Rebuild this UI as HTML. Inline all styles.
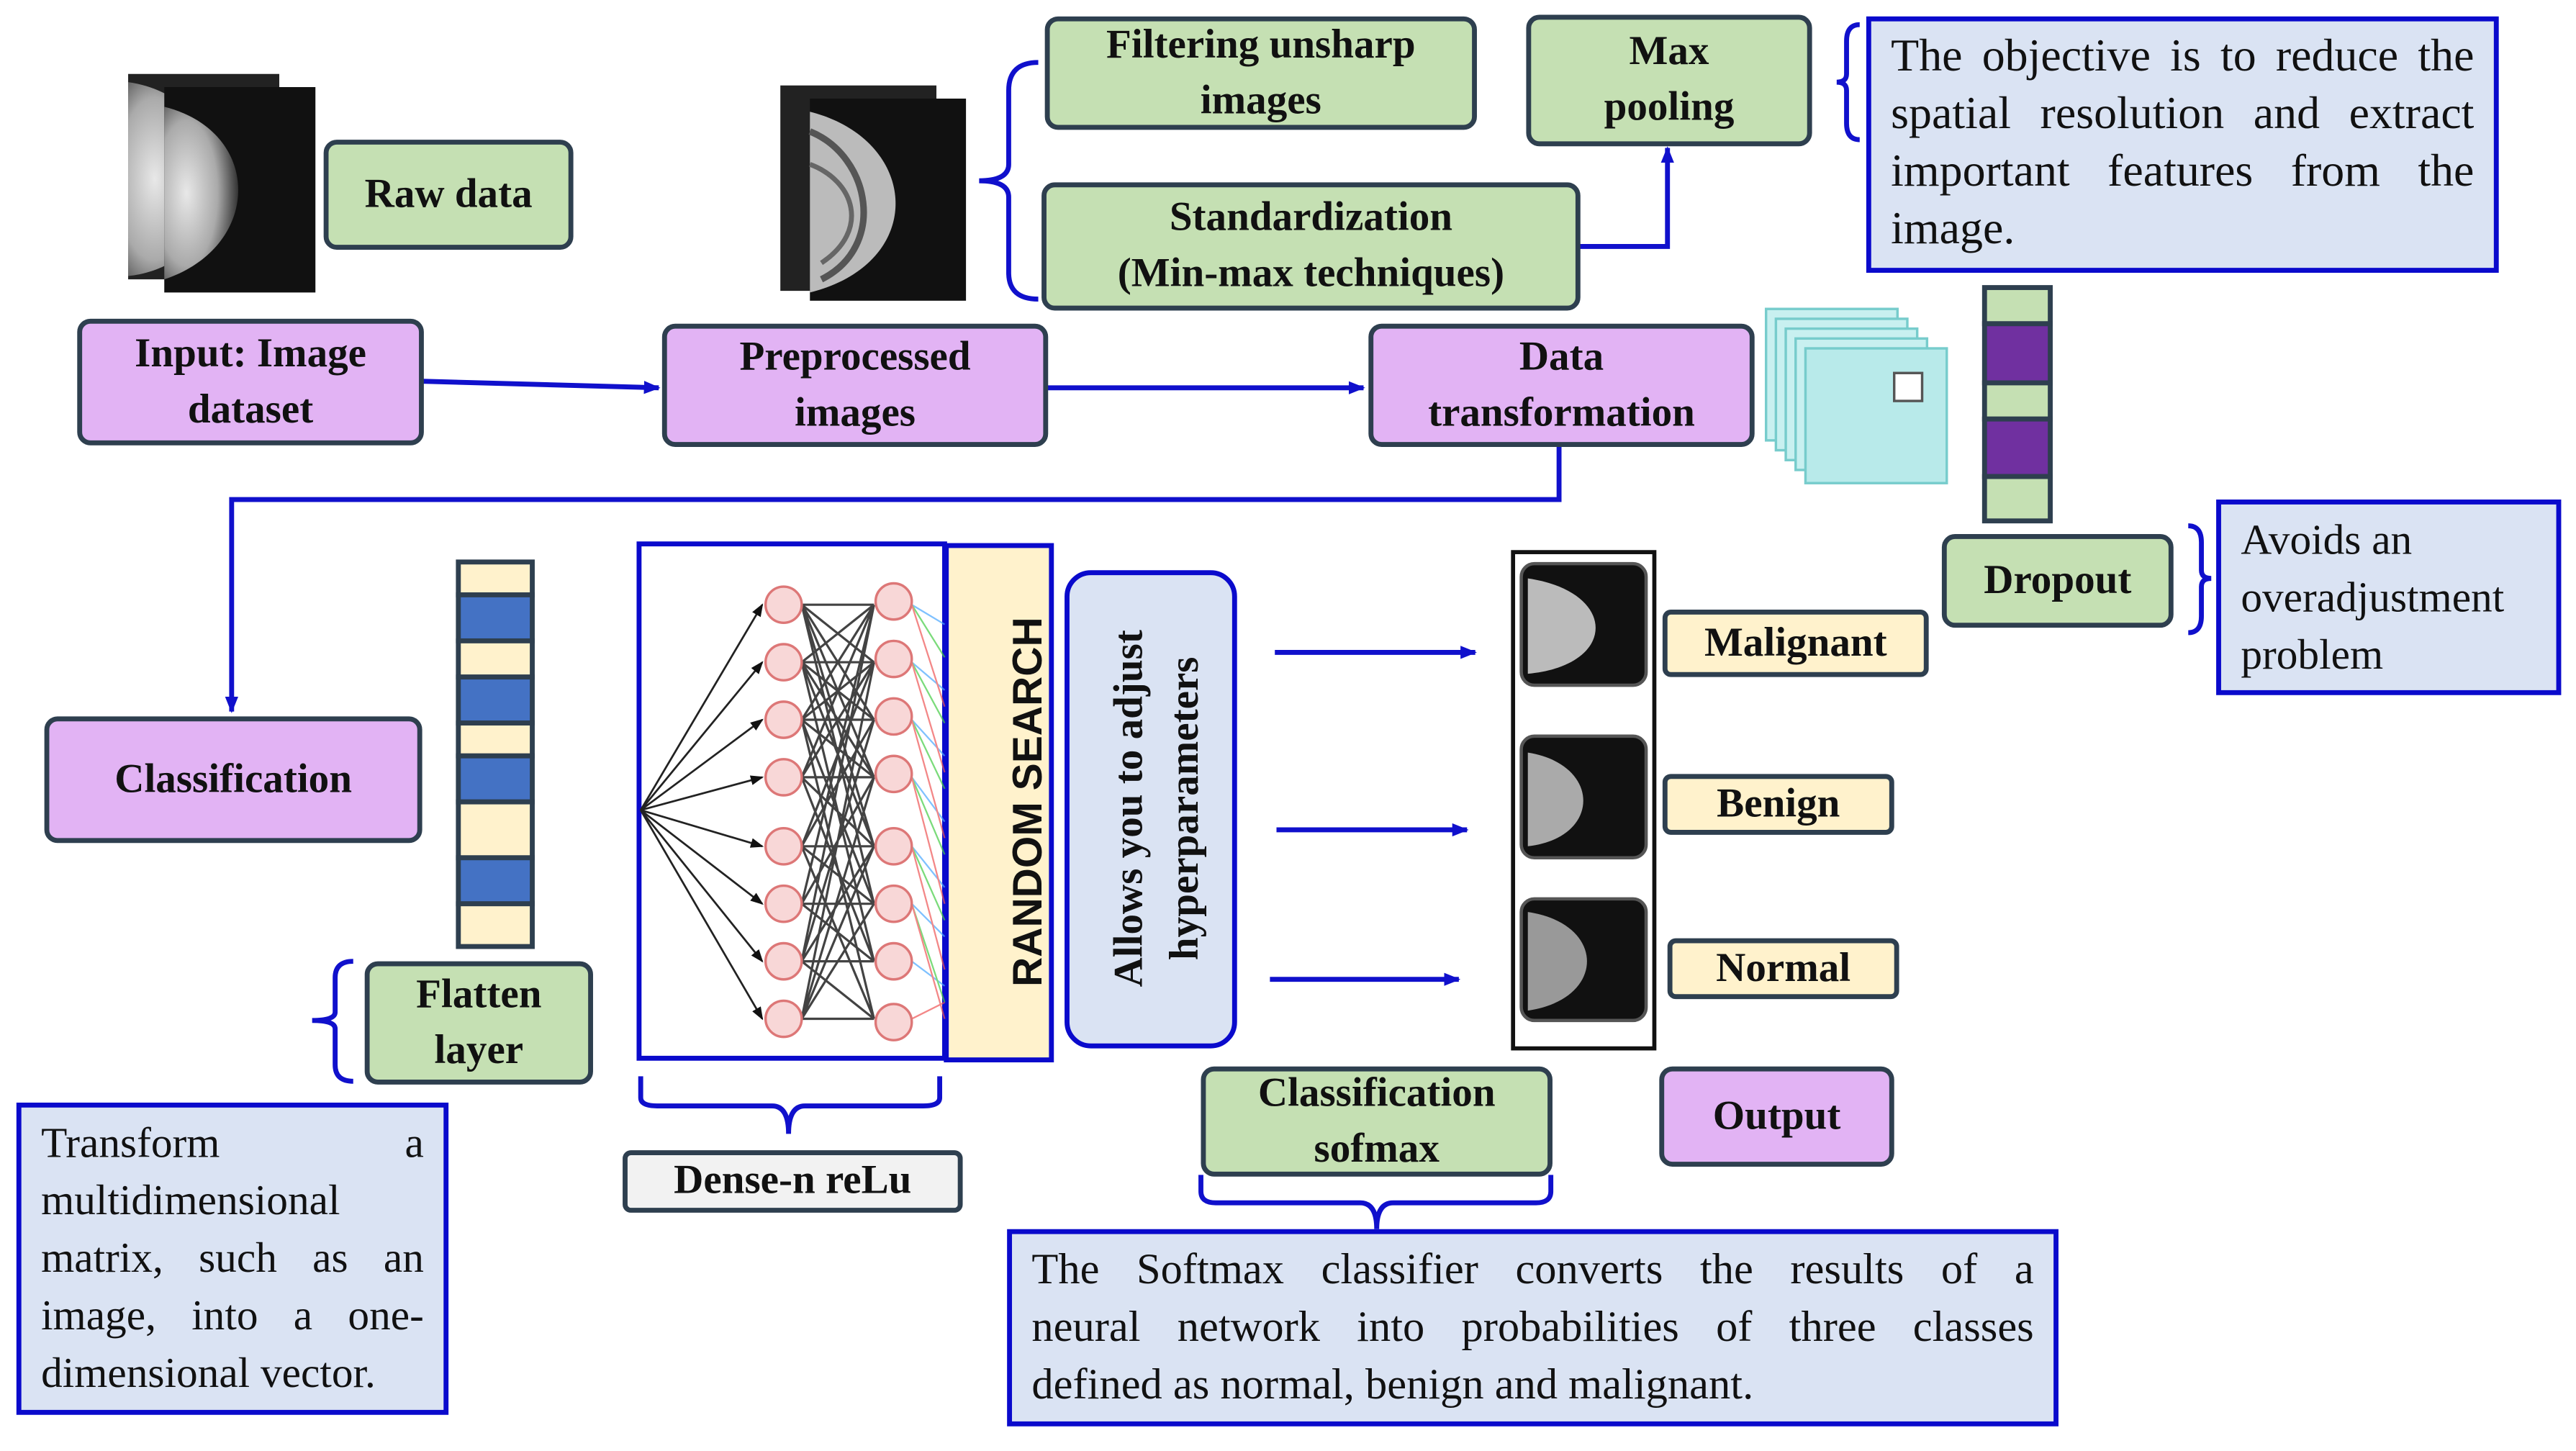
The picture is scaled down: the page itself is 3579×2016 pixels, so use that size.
<!DOCTYPE html>
<html><head><meta charset="utf-8"><style>
html,body{margin:0;padding:0;background:#fff;width:3579px;height:2016px;overflow:hidden}
#c{position:absolute;left:0;top:0;width:1568px;height:883px;transform:scale(2.2825,2.2831);transform-origin:0 0;font-family:"Liberation Serif",serif}
.b{position:absolute;box-sizing:border-box;display:flex;align-items:center;justify-content:center;text-align:center;font-weight:bold;font-size:25px;line-height:34px;color:#111}
.g{background:#c5e0b3;border:3px solid #2e3f4f;border-radius:8px}
.p{background:#e2b3f4;border:3px solid #2e3f4f;border-radius:8px}
.y{background:#fff2cc;border:3px solid #2e3f4f;border-radius:5px}
.t{position:absolute;box-sizing:border-box;background:#dae3f3;border:3px solid #0a0acc;font-size:26px;line-height:35px;color:#111;text-align:justify;text-align-last:left;padding:6px 12px}
.j{text-align:justify;text-align-last:justify;white-space:nowrap}
svg{position:absolute;left:0;top:0}
</style></head><body><div id="c">
<svg width="1568" height="883" viewBox="0 0 1568 883">
<defs><marker id="a" markerWidth="10" markerHeight="10" refX="9" refY="5" orient="auto" markerUnits="userSpaceOnUse"><path d="M0,1 L10,5 L0,9z" fill="#1010cc"/></marker>
<marker id="k" markerWidth="8" markerHeight="8" refX="7" refY="4" orient="auto" markerUnits="userSpaceOnUse"><path d="M0,1 L8,4 L0,7z" fill="#111"/></marker>
<radialGradient id="m" cx="0.3" cy="0.5" r="0.7"><stop offset="0" stop-color="#e8e8e8"/><stop offset="0.6" stop-color="#aaa"/><stop offset="1" stop-color="#333"/></radialGradient></defs>
<rect x="78" y="45" width="92" height="125" fill="#222"/>
<path d="M78,50 C150,60 150,160 78,168 Z" fill="url(#m)"/>
<rect x="100" y="53" width="92" height="125" fill="#111"/>
<path d="M100,65 C160,80 160,150 100,170 Z" fill="url(#m)"/>
<rect x="475" y="52" width="95" height="125" fill="#222"/>
<rect x="493" y="60" width="95" height="123" fill="#111"/>
<path d="M493,68 C560,85 565,160 493,178 Z" fill="#bbb"/>
<path d="M493,80 C530,95 540,150 500,170" stroke="#555" stroke-width="4" fill="none"/>
<path d="M493,100 C520,110 530,140 500,160" stroke="#666" stroke-width="3" fill="none"/>
<g stroke="#1010cc" stroke-width="3" fill="none">
<line x1="257" y1="232" x2="401" y2="236" marker-end="url(#a)"/>
<line x1="637" y1="236" x2="830" y2="236" marker-end="url(#a)"/>
<polyline points="961,150 1015,150 1015,90" marker-end="url(#a)"/>
<polyline points="949,271 949,304 141,304 141,433" marker-end="url(#a)"/>
<line x1="776" y1="397" x2="898" y2="397" marker-end="url(#a)"/>
<line x1="777" y1="505" x2="893" y2="505" marker-end="url(#a)"/>
<line x1="773" y1="596" x2="888" y2="596" marker-end="url(#a)"/>
<path d="M632,38 Q614,38 614,55 L614,100 Q614,110 596,110 Q614,110 614,120 L614,166 Q614,182 632,182"/>
<path d="M1132,15 Q1124,15 1124,25 L1124,45 Q1124,50 1118,50 Q1124,50 1124,55 L1124,75 Q1124,85 1132,85"/>
<path d="M1332,320 Q1340,320 1340,330 L1340,347 Q1340,352 1346,352 Q1340,352 1340,357 L1340,375 Q1340,385 1332,385"/>
<path d="M215,585 Q204,585 204,595 L204,616 Q204,621 190,621 Q204,621 204,626 L204,648 Q204,658 215,658"/>
<path d="M390,655 L390,668 Q390,673 400,673 L470,673 Q480,673 480,690 Q480,673 490,673 L562,673 Q572,673 572,668 L572,655"/>
<path d="M731,715 L731,725 Q731,732 740,732 L828,732 Q838,732 838,748 Q838,732 848,732 L935,732 Q944,732 944,725 L944,715"/>
</g>
<g stroke="#7cc" stroke-width="1.5" fill="#c8f0f0">
<rect x="1075" y="188" width="80" height="80"/><rect x="1081" y="194" width="80" height="80"/><rect x="1087" y="200" width="80" height="80"/><rect x="1093" y="206" width="80" height="80"/><rect x="1099" y="212" width="86" height="82" fill="#b8eaea"/>
</g>
<rect x="1153" y="227" width="17" height="17" fill="#fff" stroke="#555" stroke-width="1.5"/>
<g stroke="#2e3f4f" stroke-width="3">
<rect x="1208" y="175" width="40" height="22" fill="#c5e0b3"/>
<rect x="1208" y="197" width="40" height="36" fill="#7030a0"/>
<rect x="1208" y="233" width="40" height="22" fill="#c5e0b3"/>
<rect x="1208" y="255" width="40" height="35" fill="#7030a0"/>
<rect x="1208" y="290" width="40" height="27" fill="#c5e0b3"/>
</g>
<g stroke="#2e3f4f" stroke-width="3">
<rect x="279" y="342" width="45" height="20" fill="#fff2cc"/>
<rect x="279" y="362" width="45" height="28" fill="#4472c4"/>
<rect x="279" y="390" width="45" height="22" fill="#fff2cc"/>
<rect x="279" y="412" width="45" height="28" fill="#4472c4"/>
<rect x="279" y="440" width="45" height="20" fill="#fff2cc"/>
<rect x="279" y="460" width="45" height="28" fill="#4472c4"/>
<rect x="279" y="488" width="45" height="34" fill="#fff2cc"/>
<rect x="279" y="522" width="45" height="28" fill="#4472c4"/>
<rect x="279" y="550" width="45" height="26" fill="#fff2cc"/>
</g>
<rect x="389" y="331" width="186" height="313" fill="#fff" stroke="#0a0acc" stroke-width="3"/>
<rect x="576" y="332" width="64" height="313" fill="#fff2cc" stroke="#0a0acc" stroke-width="3"/>
<g stroke="#222" stroke-width="1.2" fill="none">
<line x1="390" y1="493" x2="464" y2="368" marker-end="url(#k)"/>
<line x1="390" y1="493" x2="464" y2="403" marker-end="url(#k)"/>
<line x1="390" y1="493" x2="464" y2="438" marker-end="url(#k)"/>
<line x1="390" y1="493" x2="464" y2="473" marker-end="url(#k)"/>
<line x1="390" y1="493" x2="464" y2="515" marker-end="url(#k)"/>
<line x1="390" y1="493" x2="464" y2="550" marker-end="url(#k)"/>
<line x1="390" y1="493" x2="464" y2="585" marker-end="url(#k)"/>
<line x1="390" y1="493" x2="464" y2="620" marker-end="url(#k)"/>
<g opacity="0.85" stroke-width="1.4">
<path d="M488,368L532,368M488,368L532,403M488,368L532,438M488,368L532,473M488,368L532,515M488,368L532,550M488,403L532,368M488,403L532,403M488,403L532,438M488,403L532,473M488,403L532,515M488,403L532,585M488,438L532,368M488,438L532,403M488,438L532,438M488,438L532,473M488,438L532,550M488,438L532,620M488,473L532,368M488,473L532,403M488,473L532,473M488,473L532,515M488,473L532,585M488,515L532,403M488,515L532,438M488,515L532,515M488,515L532,550M488,515L532,620M488,550L532,368M488,550L532,473M488,550L532,550M488,550L532,585M488,585L532,438M488,585L532,515M488,585L532,585M488,585L532,620M488,620L532,403M488,620L532,473M488,620L532,550M488,620L532,620M488,585L532,368M488,620L532,515"/>
</g>
</g>
<g stroke-width="1" opacity="0.7">
<path d="M555,368L575,380M555,403L575,420M555,438L575,460M555,473L575,500M555,515L575,540M555,550L575,570M555,585L575,600" stroke="#4aa8ff"/>
<path d="M555,368L575,400M555,403L575,440M555,438L575,480M555,473L575,520M555,515L575,560M555,550L575,610" stroke="#4c4"/>
<path d="M555,368L575,430M555,403L575,470M555,438L575,510M555,473L575,550M555,515L575,590M555,550L575,620M555,620L575,610" stroke="#e55"/>
</g>
<g fill="#f8d7d7" stroke="#d77" stroke-width="1.5">
<circle cx="477" cy="368" r="11"/><circle cx="477" cy="403" r="11"/><circle cx="477" cy="438" r="11"/><circle cx="477" cy="473" r="11"/><circle cx="477" cy="515" r="11"/><circle cx="477" cy="550" r="11"/><circle cx="477" cy="585" r="11"/><circle cx="477" cy="620" r="11"/>
<circle cx="544" cy="366" r="11"/><circle cx="544" cy="401" r="11"/><circle cx="544" cy="436" r="11"/><circle cx="544" cy="471" r="11"/><circle cx="544" cy="515" r="11"/><circle cx="544" cy="550" r="11"/><circle cx="544" cy="585" r="11"/><circle cx="544" cy="622" r="11"/>
</g>
<text transform="translate(634,488) rotate(-90)" text-anchor="middle" font-family="Liberation Sans,sans-serif" font-weight="bold" font-size="25" fill="#111">RANDOM SEARCH</text>
<rect x="921" y="336" width="86" height="302" fill="#fff" stroke="#111" stroke-width="2.5"/>
<g stroke="#555" stroke-width="2">
<rect x="926" y="343" width="76" height="74" rx="8" fill="#111"/>
<rect x="926" y="448" width="76" height="74" rx="8" fill="#111"/>
<rect x="926" y="547" width="76" height="74" rx="8" fill="#111"/>
</g>
<path d="M930,352 C985,360 985,405 930,410Z" fill="#bbb"/>
<path d="M930,458 C975,465 975,510 930,515Z" fill="#aaa"/>
<path d="M930,555 C978,562 978,608 930,615Z" fill="#999"/>
<text transform="translate(695,492) rotate(-90)" text-anchor="middle" font-family="Liberation Serif,serif" font-weight="bold" font-size="25" fill="#111"><tspan x="0" y="0">Allows you to adjust</tspan><tspan x="0" y="34">hyperparameters</tspan></text>
</svg>
<div class="b g" style="left:197px;top:85px;width:152px;height:67px">Raw data</div>
<div class="b p" style="left:47px;top:194px;width:211px;height:77px">Input: Image<br>dataset</div>
<div class="b p" style="left:403px;top:197px;width:235px;height:75px">Preprocessed<br>images</div>
<div class="b g" style="left:636px;top:10px;width:263px;height:69px">Filtering unsharp<br>images</div>
<div class="b g" style="left:634px;top:111px;width:328px;height:78px">Standardization<br>(Min-max techniques)</div>
<div class="b g" style="left:929px;top:9px;width:174px;height:80px">Max<br>pooling</div>
<div class="t" style="left:1136px;top:10px;width:385px;height:156px;padding-top:4px;font-size:28px">The objective is to reduce the spatial resolution and extract important features from the image.</div>
<div class="b p" style="left:833px;top:197px;width:235px;height:75px">Data<br>transformation</div>
<div class="b g" style="left:1182px;top:325px;width:141px;height:57px">Dropout</div>
<div class="t" style="left:1349px;top:304px;width:210px;height:119px;padding-top:4px;text-align:left">Avoids an overadjustment problem</div>
<div class="b p" style="left:27px;top:436px;width:230px;height:77px">Classification</div>
<div class="b g" style="left:222px;top:585px;width:139px;height:75px">Flatten<br>layer</div>
<div class="t" style="left:10px;top:671px;width:263px;height:190px;padding-top:4px">Transform a multidimensional matrix, such as an image, into a one-dimensional vector.</div>
<div class="b" style="left:379px;top:700px;width:207px;height:38px;background:#f2f2f2;border:3px solid #2e3f4f;border-radius:5px">Dense-n reLu</div>
<div style="position:absolute;left:648px;top:347px;width:105px;height:291px;box-sizing:border-box;background:#dae3f3;border:3px solid #0a0acc;border-radius:16px;z-index:-1"></div>
<div class="b y" style="left:1012px;top:371px;width:162px;height:41px">Malignant</div>
<div class="b y" style="left:1012px;top:471px;width:141px;height:37px">Benign</div>
<div class="b y" style="left:1015px;top:571px;width:141px;height:37px">Normal</div>
<div class="b g" style="left:731px;top:649px;width:214px;height:67px">Classification<br>sofmax</div>
<div class="b p" style="left:1010px;top:649px;width:143px;height:61px">Output</div>
<div class="t" style="left:613px;top:748px;width:640px;height:120px;padding-top:4px;font-size:26.5px"><div class="j">The Softmax classifier converts the results of a</div><div class="j">neural network into probabilities of three classes</div><div>defined as normal, benign and malignant.</div></div>
</div></body></html>
